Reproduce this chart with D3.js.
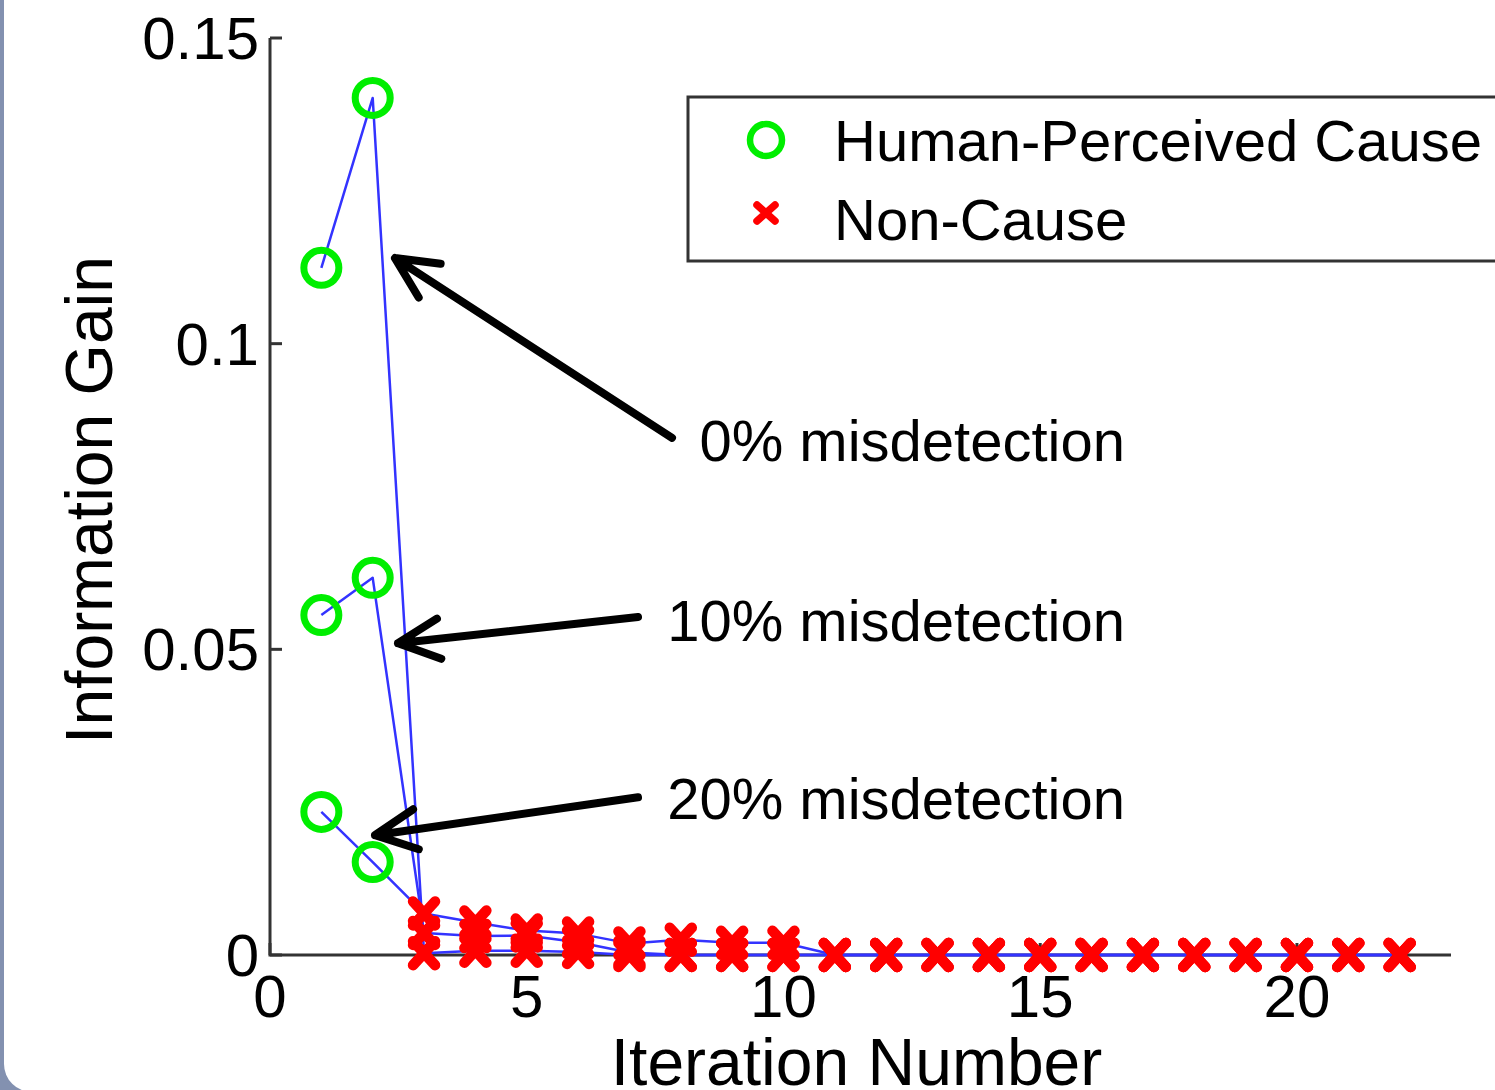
<!DOCTYPE html>
<html>
<head>
<meta charset="utf-8">
<script src="https://cdn.jsdelivr.net/npm/d3@7"></script>
<style>
  html, body { margin: 0; padding: 0; background: #fff; }
  svg { display: block; font-family: "Liberation Sans", Arial, sans-serif; }
</style>
</head>
<body>
<svg id="chart" width="1495" height="1090"></svg>
<script>
const iterations = [1, 2, 3, 4, 5, 6, 7, 8, 9, 10, 11, 12, 13, 14, 15, 16, 17, 18, 19, 20, 21, 22];
const causeIterations = [1, 2];

const gain0 = [0.1124, 0.1402, 0.0003, 0.0007, 0.0007, 0.0005, 0, 0, 0, 0, 0, 0, 0, 0, 0, 0, 0, 0, 0, 0, 0, 0];
const gain10 = [0.0556, 0.0617, 0.0036, 0.0031, 0.0032, 0.0021, 0.0004, 0, 0, 0, 0, 0, 0, 0, 0, 0, 0, 0, 0, 0, 0, 0];
const gain20 = [0.0234, 0.0152, 0.0068, 0.0053, 0.0040, 0.0035, 0.0019, 0.0025, 0.0020, 0.0020, 0, 0, 0, 0, 0, 0, 0, 0, 0, 0, 0, 0];

const seriesNames = ['0% misdetection', '10% misdetection', '20% misdetection'];
const seriesValues = [gain0, gain10, gain20];

const xTicks = [0, 5, 10, 15, 20];
const xTickLabels = ['0', '5', '10', '15', '20'];
const yTicks = [0, 0.05, 0.1, 0.15];
const yTickLabels = ['0', '0.05', '0.1', '0.15'];

const legendLabels = ['Human-Perceived Cause', 'Non-Cause'];

// arrow annotations, in data units: tip, tail, label anchor (right edge)
const annotTip = [[2.434, 0.1140], [2.493, 0.0510], [2.045, 0.0196]];
const annotTail = [[7.829, 0.0846], [7.167, 0.0553], [7.167, 0.0258]];
const annotLabelAt = [[16.65, 0.0842], [16.65, 0.0548], [16.65, 0.0257]];

const FONT = 60;
const TEXT_FONT = 58;
const LINE_BLUE = '#3333ff';
const CAUSE_GREEN = '#00ee00';
const NONCAUSE_RED = '#ff0000';
const AXIS = '#333';

const svg = d3.select('#chart');

// page frame: blue-grey strip on the left with a rounded bottom corner
svg.append('rect').attr('width', 1495).attr('height', 1090).attr('fill', '#8391b0');
svg.append('rect')
  .attr('x', 4).attr('y', -60)
  .attr('width', 1600).attr('height', 1152)
  .attr('rx', 28)
  .attr('fill', '#fff');

const x = d3.scaleLinear().domain([0, 23]).range([270, 1451]);
const y = d3.scaleLinear().domain([0, 0.15]).range([955, 38]);

// axes (MATLAB style: ticks inside, box off)
const axisG = svg.append('g');
axisG.append('path')
  .attr('d', `M${x(0)},${y(0.15)}V${y(0)}H${x(23)}`)
  .attr('fill', 'none')
  .attr('stroke', AXIS)
  .attr('stroke-width', 3);

axisG.selectAll('line.ytick')
  .data(yTicks)
  .join('line')
  .attr('class', 'ytick')
  .attr('x1', x(0)).attr('x2', x(0) + 12)
  .attr('y1', (d) => y(d)).attr('y2', (d) => y(d))
  .attr('stroke', AXIS).attr('stroke-width', 3);

axisG.selectAll('line.xtick')
  .data(xTicks)
  .join('line')
  .attr('class', 'xtick')
  .attr('x1', (d) => x(d)).attr('x2', (d) => x(d))
  .attr('y1', y(0)).attr('y2', y(0) - 12)
  .attr('stroke', AXIS).attr('stroke-width', 3);

axisG.selectAll('text.ylab')
  .data(yTicks)
  .join('text')
  .attr('class', 'ylab')
  .attr('x', x(0) - 11)
  .attr('y', (d) => y(d) + 21)
  .attr('text-anchor', 'end')
  .attr('font-size', FONT)
  .text((d, i) => yTickLabels[i]);

axisG.selectAll('text.xlab')
  .data(xTicks)
  .join('text')
  .attr('class', 'xlab')
  .attr('x', (d) => x(d))
  .attr('y', 1017)
  .attr('text-anchor', 'middle')
  .attr('font-size', FONT)
  .text((d, i) => xTickLabels[i]);

svg.append('text')
  .attr('x', (x(0) + x(23)) / 2 - 4)
  .attr('y', 1085)
  .attr('text-anchor', 'middle')
  .attr('font-size', 66)
  .text('Iteration Number');

svg.append('text')
  .attr('transform', 'translate(112,500) rotate(-90)')
  .attr('text-anchor', 'middle')
  .attr('font-size', 66)
  .text('Information Gain');

// series lines
const line = d3.line()
  .x((d, i) => x(iterations[i]))
  .y((d) => y(d));

svg.append('g')
  .selectAll('path')
  .data(seriesValues)
  .join('path')
  .attr('d', line)
  .attr('fill', 'none')
  .attr('stroke', LINE_BLUE)
  .attr('stroke-width', 2.5)
  .attr('stroke-linejoin', 'round');

// markers: circles for cause iterations, crosses for the rest
const points = seriesValues.flatMap((vals, s) =>
  vals.map((v, i) => ({ s, it: iterations[i], v, cause: causeIterations.includes(iterations[i]) }))
);

const markerG = svg.append('g');
markerG.selectAll('path.cross')
  .data(points.filter((p) => !p.cause))
  .join('path')
  .attr('class', 'cross')
  .attr('transform', (p) => `translate(${x(p.it)},${y(p.v)})`)
  .attr('d', 'M-11,-12L11,12M-11,12L11,-12')
  .attr('stroke', NONCAUSE_RED)
  .attr('stroke-width', 10.5)
  .attr('stroke-linecap', 'round');

markerG.selectAll('circle.cause')
  .data(points.filter((p) => p.cause))
  .join('circle')
  .attr('class', 'cause')
  .attr('cx', (p) => x(p.it))
  .attr('cy', (p) => y(p.v))
  .attr('r', 17.5)
  .attr('fill', 'none')
  .attr('stroke', CAUSE_GREEN)
  .attr('stroke-width', 7);

// annotations
const annotG = svg.append('g');
const WING = 46;
const WING_ANGLE = (26 * Math.PI) / 180;
seriesNames.forEach((name, i) => {
  const tx = x(annotTip[i][0]);
  const ty = y(annotTip[i][1]);
  const ex = x(annotTail[i][0]);
  const ey = y(annotTail[i][1]);
  const ang = Math.atan2(ey - ty, ex - tx);
  const w1 = [tx + WING * Math.cos(ang + WING_ANGLE), ty + WING * Math.sin(ang + WING_ANGLE)];
  const w2 = [tx + WING * Math.cos(ang - WING_ANGLE), ty + WING * Math.sin(ang - WING_ANGLE)];
  annotG.append('path')
    .attr('d', `M${ex},${ey}L${tx},${ty}M${w1[0]},${w1[1]}L${tx},${ty}L${w2[0]},${w2[1]}`)
    .attr('fill', 'none')
    .attr('stroke', '#000')
    .attr('stroke-width', 8)
    .attr('stroke-linecap', 'round')
    .attr('stroke-linejoin', 'round');
  annotG.append('text')
    .attr('x', x(annotLabelAt[i][0]))
    .attr('y', y(annotLabelAt[i][1]) + 21)
    .attr('text-anchor', 'end')
    .attr('font-size', TEXT_FONT)
    .text(name);
});

// legend (its right side runs past the edge of the picture)
const legend = svg.append('g');
legend.append('rect')
  .attr('x', 688).attr('y', 97)
  .attr('width', 900).attr('height', 164)
  .attr('fill', '#fff')
  .attr('stroke', AXIS)
  .attr('stroke-width', 3);
legend.append('circle')
  .attr('cx', 766).attr('cy', 140)
  .attr('r', 16)
  .attr('fill', 'none')
  .attr('stroke', CAUSE_GREEN)
  .attr('stroke-width', 6.5);
legend.append('path')
  .attr('transform', 'translate(766,213)')
  .attr('d', 'M-9,-8L9,8M-9,8L9,-8')
  .attr('stroke', NONCAUSE_RED)
  .attr('stroke-width', 7.5)
  .attr('stroke-linecap', 'round');
legend.selectAll('text')
  .data(legendLabels)
  .join('text')
  .attr('x', 834)
  .attr('y', (d, i) => 161 + i * 79)
  .attr('font-size', TEXT_FONT)
  .text((d) => d);
</script>
</body>
</html>
